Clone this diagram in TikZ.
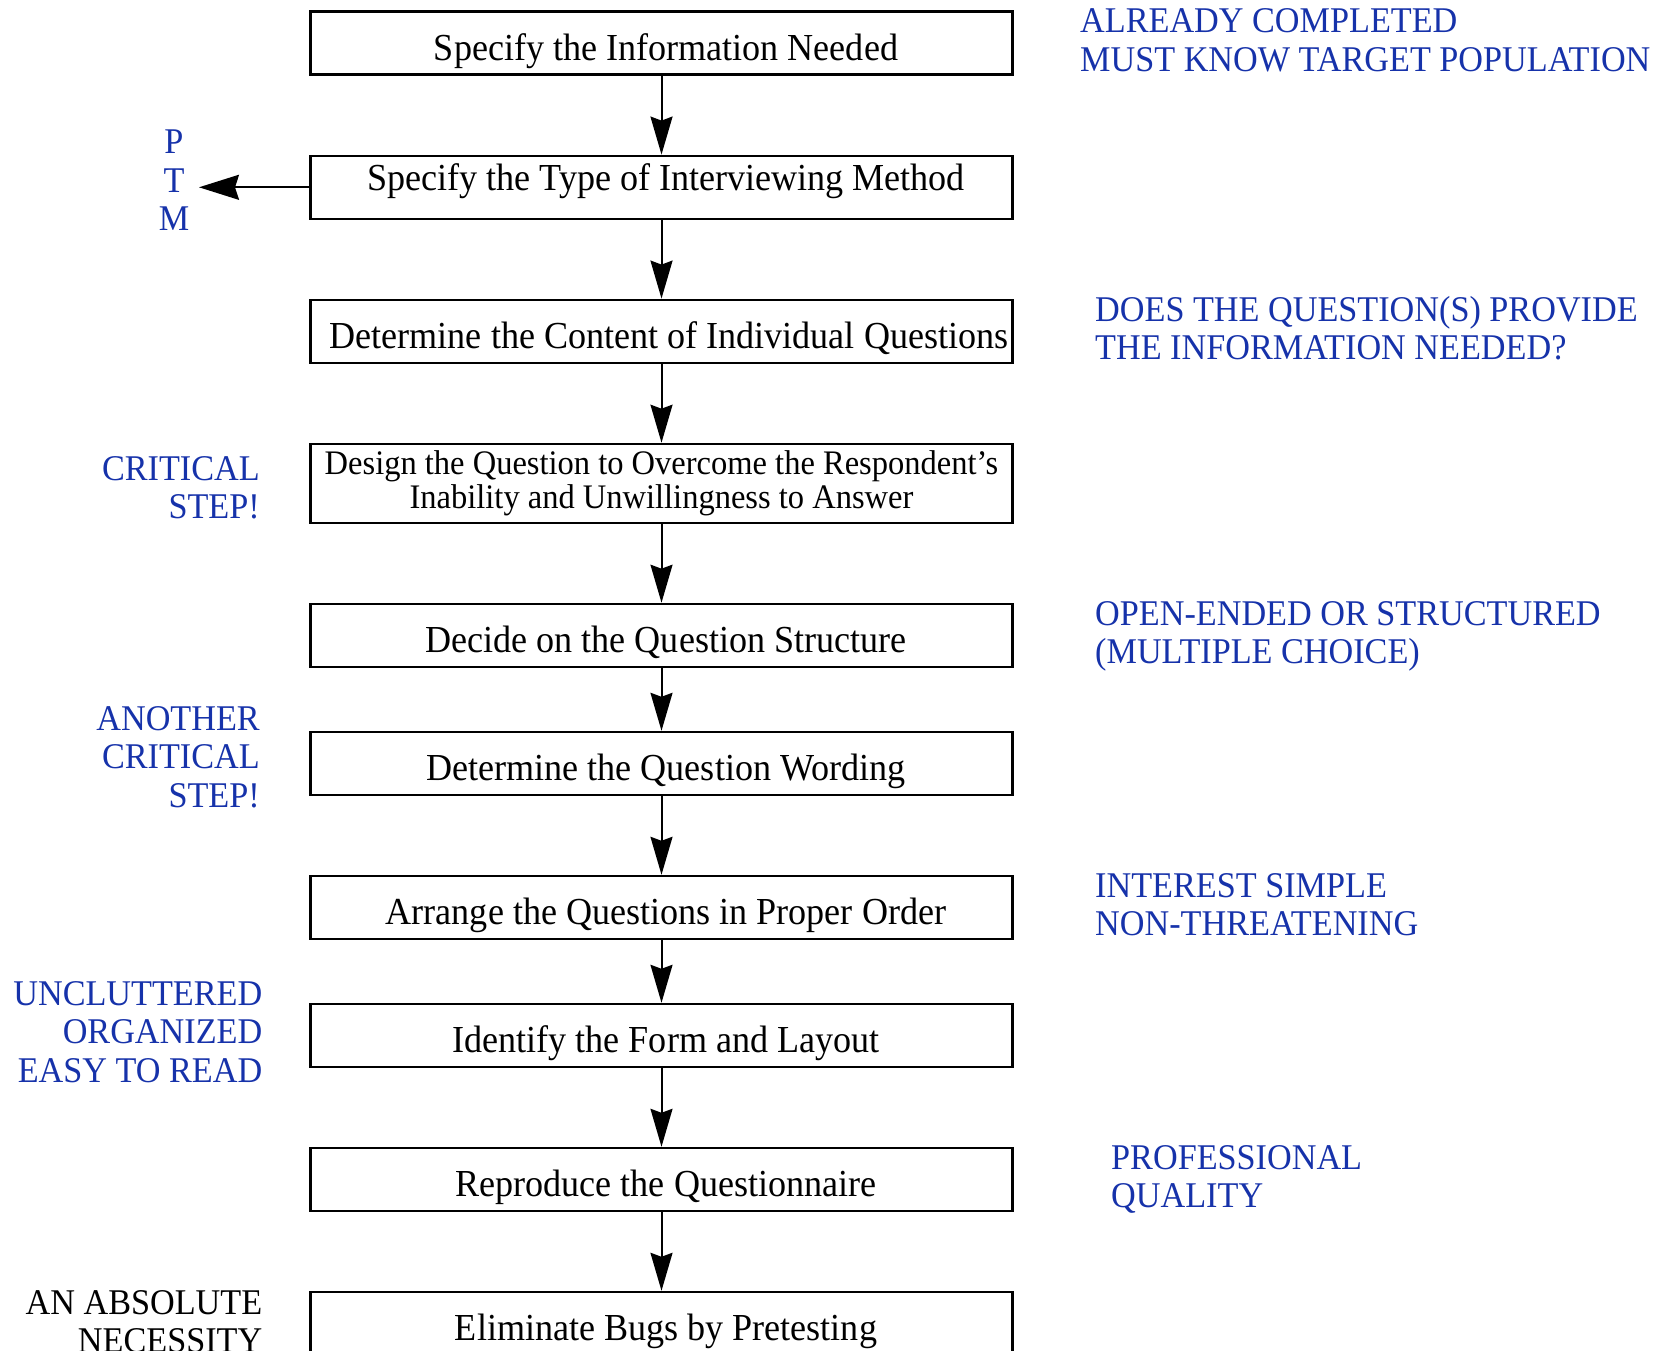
\documentclass[tikz,border=0pt]{standalone}
\usepackage{fontspec}
\setmainfont{Liberation Serif}[FakeStretch=0.945]
\usetikzlibrary{arrows.meta}
\definecolor{lblblue}{RGB}{22,50,170}
\begin{document}
\begin{tikzpicture}[x=1pt,y=-1pt,
  box/.style={draw, line width=2.4pt, minimum width=702pt, minimum height=63pt,
    inner sep=0pt, font=\fontsize{38.2}{40}\selectfont},
  onel/.style={text height=38pt, text depth=4.2pt, execute at begin node={\hspace*{#1}}},
  onel/.default=9pt,
  flow/.style={-{Stealth[length=38pt,width=22pt,inset=4pt]}, line width=2pt},
  lbl/.style={text=lblblue, font=\fontsize{36.2}{38.5}\selectfont, inner sep=0pt},
  blk/.style={text=black, font=\fontsize{36.2}{38.5}\selectfont, inner sep=0pt}]
\useasboundingbox (0,0) rectangle (1673,1351);
% boxes
\node[box, onel] (b1) at (661.5,43.2) {Specify the Information Needed};
\node[box, text height=24pt, text depth=16.6pt, execute at begin node={\hspace*{9pt}}] (b2) at (661.5,187.3) {Specify the Type of Interviewing Method};
\node[box, onel=15pt] (b3) at (661.5,331.3) {Determine the Content of Individual Questions};
\node[box, minimum height=79pt, align=center, font=\fontsize{34.4}{34}\selectfont] (b4) at (661.5,483.4) {Design the Question to Overcome the Respondent’s\\Inability and Unwillingness to Answer};
\node[box, onel] (b5) at (661.5,635.4) {Decide on the Question Structure};
\node[box, onel] (b6) at (661.5,763.5) {Determine the Question Wording};
\node[box, onel] (b7) at (661.5,907.5) {Arrange the Questions in Proper Order};
\node[box, onel] (b8) at (661.5,1035.5) {Identify the Form and Layout};
\node[box, onel] (b9) at (661.5,1179.5) {Reproduce the Questionnaire};
\node[box, onel] (b10) at (661.5,1323.5) {Eliminate Bugs by Pretesting};
% arrows
\draw[flow] (b1) -- (b2);
\draw[flow] (b2) -- (b3);
\draw[flow] (b3) -- (b4);
\draw[flow] (b4) -- (b5);
\draw[flow] (b5) -- (b6);
\draw[flow] (b6) -- (b7);
\draw[flow] (b7) -- (b8);
\draw[flow] (b8) -- (b9);
\draw[flow] (b9) -- (b10);
\coordinate (ptmtip) at (199,187.3);
\draw[flow, -{Stealth[length=40pt,width=25pt,inset=4pt]}] (b2.west) -- (ptmtip);
% right labels (anchor at baseline of last line)
\node[lbl, anchor=base west, align=left] (r1) at (1080,71.5) {ALREADY COMPLETED\\MUST KNOW TARGET POPULATION};
\node[lbl, anchor=base west, align=left] (r2) at (1095,359.5) {DOES THE QUESTION(S) PROVIDE\\THE INFORMATION NEEDED?};
\node[lbl, anchor=base west, align=left] (r3) at (1095,663.5) {OPEN-ENDED OR STRUCTURED\\(MULTIPLE CHOICE)};
\node[lbl, anchor=base west, align=left] (r4) at (1095,935.5) {INTEREST SIMPLE\\NON-THREATENING};
\node[lbl, anchor=base west, align=left] (r5) at (1111,1207.5) {PROFESSIONAL\\QUALITY};
% left labels
\node[lbl, anchor=base, align=center] (ptm) at (174,230.5) {P\\T\\M};
\node[lbl, anchor=base east, align=right] (l1) at (260,518.5) {CRITICAL\\STEP!};
\node[lbl, anchor=base east, align=right] (l2) at (260,807) {ANOTHER\\CRITICAL\\STEP!};
\node[lbl, anchor=base east, align=right] (l3) at (262.5,1082) {UNCLUTTERED\\ORGANIZED\\EASY TO READ};
\node[blk, anchor=base east, align=right] (l4) at (262.5,1352.5) {AN ABSOLUTE\\NECESSITY};
\end{tikzpicture}
\end{document}
